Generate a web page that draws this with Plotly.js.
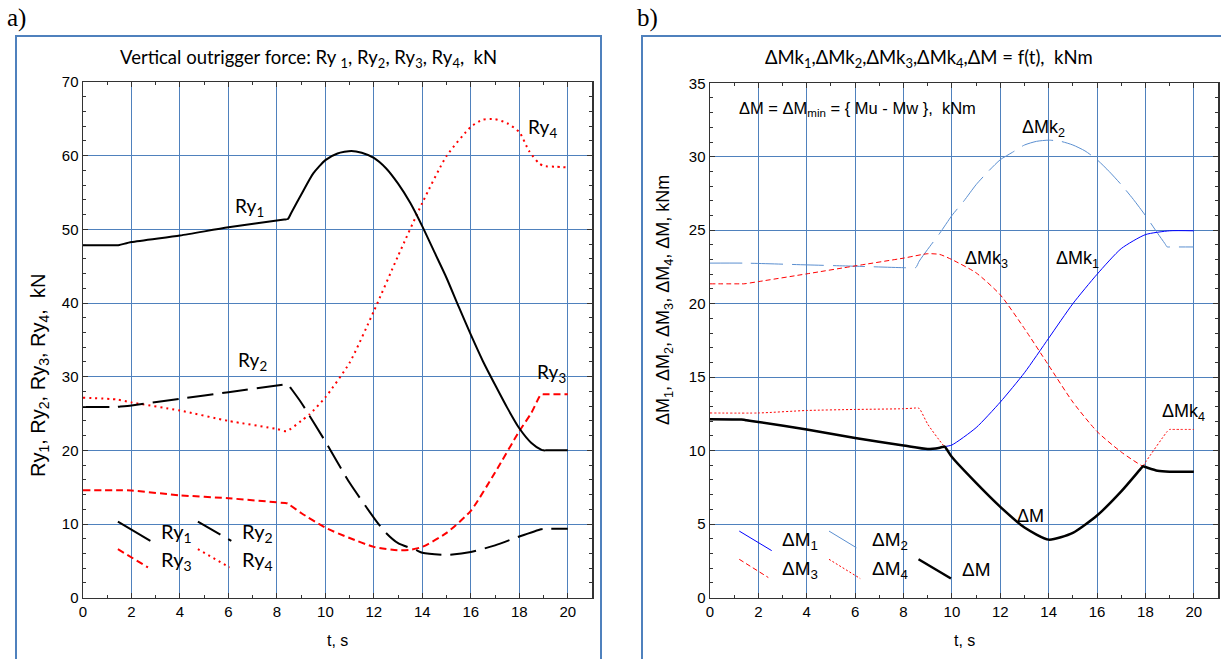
<!DOCTYPE html>
<html>
<head>
<meta charset="utf-8">
<script src="https://cdn.plot.ly/plotly-3.0.1.min.js"></script>
<style>html,body{margin:0;padding:0;background:#fff;}#chart{width:1221px;height:659px;}</style>
</head>
<body>
<div id="chart"></div>
<script>
// ---------- Panel a) : vertical outrigger force, kN ----------
const tRy1 = [0, 1.3, 1.4, 1.5, 2, 4, 6, 8.3, 8.45, 8.6, 9, 9.5, 10, 10.5, 11.07, 11.5, 12, 12.5, 13, 13.5, 14, 14.5, 15, 15.5, 16, 16.5, 17, 17.5, 18, 18.5, 18.9, 19.0, 19.1, 20];
const ry1  = [47.85, 47.85, 47.85, 47.88, 48.27, 49.16, 50.28, 51.33, 51.4, 52.3, 54.7, 57.6, 59.4, 60.3, 60.65, 60.4, 59.7, 58.3, 56.2, 53.6, 50.4, 46.9, 43.4, 39.5, 35.7, 32.1, 28.9, 25.8, 23.0, 21.0, 20.1, 20.0, 20.0, 20.0];

const tRy2 = [0, 1.3, 1.4, 1.5, 2, 4, 6, 8.35, 8.45, 8.55, 9, 10, 11, 12.1, 12.5, 13, 13.75, 14, 15, 16, 17, 18, 18.9, 19, 19.1, 20];
const ry2  = [25.9, 25.9, 25.9, 25.93, 26.1, 27.0, 27.9, 28.95, 29.0, 28.55, 26.5, 21.2, 15.6, 10.4, 8.8, 7.4, 6.45, 6.1, 5.8, 6.2, 7.1, 8.3, 9.3, 9.35, 9.35, 9.35];

const tRy3 = [0, 1.3, 1.4, 1.5, 2, 4, 6, 8.35, 8.45, 8.55, 9, 10, 11, 12, 13, 13.5, 14, 15, 16, 17, 18, 18.5, 18.8, 18.9, 19.0, 20];
const ry3  = [14.6, 14.6, 14.6, 14.6, 14.55, 13.9, 13.5, 12.84, 12.8, 12.55, 11.5, 9.5, 8.1, 6.9, 6.45, 6.5, 6.9, 8.8, 11.8, 17.0, 22.6, 25.1, 27.1, 27.6, 27.6, 27.6];

const tRy4 = [0, 1.4, 2, 4, 6, 8, 8.4, 9, 9.35, 10, 11, 12, 13, 14, 15, 16, 16.5, 17, 17.5, 18, 18.4, 18.8, 19, 19.5, 20];
const ry4  = [27.15, 26.9, 26.5, 25.4, 24.0, 22.9, 22.6, 24.0, 24.9, 27.2, 31.9, 38.9, 46.4, 53.6, 59.95, 63.9, 64.9, 64.95, 64.4, 63.2, 60.65, 59.0, 58.6, 58.5, 58.4];

// ---------- Panel b) : moment differences, kNm ----------
const tDM = [0, 1.3, 1.4, 1.5, 2, 4, 6, 8, 9, 9.5, 9.6, 9.7, 9.8, 10, 11, 12, 13, 14, 15, 16, 17, 17.8, 17.9, 18.0, 18.5, 19, 20];
const dM  = [12.14, 12.12, 12.1, 12.07, 11.95, 11.44, 10.85, 10.34, 10.1, 10.2, 10.24, 10.27, 10.05, 9.56, 7.8, 6.17, 4.76, 3.94, 4.4, 5.58, 7.22, 8.75, 8.93, 8.88, 8.63, 8.56, 8.56];

const tDM1 = [0, 1.4, 2, 4, 6, 8, 9, 9.5, 9.7, 10, 11, 12, 13, 14, 15, 16, 17, 18, 19, 20];
const dM1  = [12.14, 12.1, 11.95, 11.44, 10.85, 10.34, 10.1, 10.2, 10.27, 10.38, 11.56, 13.3, 15.3, 17.65, 20.0, 22.0, 23.75, 24.7, 24.96, 24.96];

const tDM2 = [0, 1.4, 4, 6, 8, 8.5, 8.65, 9, 9.5, 10, 10.5, 11, 11.5, 12, 12.5, 13, 13.5, 14, 14.5, 15, 15.5, 16, 16.5, 17, 17.5, 18, 18.5, 18.8, 18.9, 19.0, 20];
const dM2  = [22.76, 22.76, 22.64, 22.55, 22.45, 22.45, 22.9, 23.7, 24.8, 26.0, 27.0, 28.1, 29.0, 29.8, 30.3, 30.8, 31.05, 31.13, 31.05, 30.8, 30.4, 29.8, 29.0, 28.1, 27.1, 26.0, 24.8, 24.1, 23.86, 23.86, 23.86];

const tDM3 = [0, 1.3, 1.4, 1.5, 2, 4, 6, 8, 9, 9.5, 10, 11, 12, 13, 14, 15, 16, 17, 17.9, 18.5, 19, 20];
const dM3  = [21.35, 21.35, 21.35, 21.37, 21.5, 22.03, 22.57, 23.1, 23.4, 23.35, 23.0, 22.1, 20.6, 18.3, 15.8, 13.3, 11.3, 9.9, 8.93, 8.63, 8.56, 8.56];

const tDM4 = [0, 2, 4, 6, 8, 8.5, 8.6, 8.7, 9, 9.6, 9.7, 9.8, 10, 11, 12, 13, 14, 15, 16, 17, 17.8, 17.9, 18.0, 18.9, 19, 19.1, 20];
const dM4  = [12.56, 12.56, 12.73, 12.8, 12.85, 12.9, 12.92, 12.75, 11.8, 10.45, 10.27, 10.05, 9.56, 7.8, 6.17, 4.76, 3.94, 4.4, 5.58, 7.22, 8.75, 8.93, 9.2, 11.3, 11.44, 11.44, 11.44];

// ---------- styling ----------
const GRID = '#4f81bd';
const AX = '#333333';
const SANS = 'Liberation Sans, Arial, sans-serif';
const CAL = 'Lato, Carlito, sans-serif';

function line(x, y, xa, ya, color, width, dash, smooth) {
  const ln = {color: color, width: width, dash: dash};
  if (smooth) { ln.shape = 'spline'; ln.smoothing = smooth; }
  return {x: x, y: y, xaxis: xa, yaxis: ya, type: 'scatter', mode: 'lines',
          line: ln, hoverinfo: 'skip', showlegend: false};
}

const traces = [
  line(tRy4, ry4, 'x', 'y', '#ff0000', 2, '2px,4px', 0.6),
  line(tRy3, ry3, 'x', 'y', '#ff0000', 2, '7px,4px', 0.6),
  line(tRy2, ry2, 'x', 'y', '#000000', 2, '26px,9px', 0.6),
  line(tRy1, ry1, 'x', 'y', '#000000', 2, 'solid', 0.6),
  line(tDM2, dM2, 'x2', 'y2', '#5b8fd0', 1, '32px,9px', 0.6),
  line(tDM3, dM3, 'x2', 'y2', '#ff0000', 1, '5px,3px', 0.6),
  line(tDM4, dM4, 'x2', 'y2', '#ff0000', 1, '2px,2px', 0.6),
  line(tDM1, dM1, 'x2', 'y2', '#0000ff', 1, 'solid', 0.6),
  line(tDM, dM, 'x2', 'y2', '#000000', 2.5, 'solid', 0.6)
];

function xax(domain, anchor) {
  return {domain: domain, anchor: anchor, range: [0, 21], tick0: 0, dtick: 2,
    ticks: 'inside', ticklen: 5, tickcolor: AX, showline: true, linecolor: AX, linewidth: 1.5,
    mirror: 'ticks', showgrid: true, gridcolor: GRID, gridwidth: 1, zeroline: false,
    tickfont: {family: SANS, size: 15, color: '#000'},
    minor: {dtick: 1, ticks: 'inside', ticklen: 3, tickcolor: AX, showgrid: false}};
}
function yax(domain, anchor, max, dt, mdt) {
  return {domain: domain, anchor: anchor, range: [0, max], tick0: 0, dtick: dt,
    ticks: 'inside', ticklen: 5, tickcolor: AX, showline: true, linecolor: AX, linewidth: 1.5,
    mirror: 'ticks', showgrid: true, gridcolor: GRID, gridwidth: 1, zeroline: false,
    tickfont: {family: SANS, size: 15, color: '#000'},
    minor: {dtick: mdt, ticks: 'inside', ticklen: 3, tickcolor: AX, showgrid: false}};
}

function pa(text, x, y, size, family, extra) {
  return Object.assign({text: text, xref: 'paper', yref: 'paper', x: x, y: y, showarrow: false,
    xanchor: 'center', yanchor: 'middle', font: {family: family, size: size, color: '#000'}}, extra || {});
}
function da(text, xr, yr, x, y, size, family, xanchor) {
  return {text: text, xref: xr, yref: yr, x: x, y: y, showarrow: false,
    xanchor: xanchor || 'center', yanchor: 'middle', font: {family: family, size: size, color: '#000'}};
}
function seg(xr, yr, x0, y0, x1, y1, color, width, dash) {
  return {type: 'line', xref: xr, yref: yr, x0: x0, y0: y0, x1: x1, y1: y1,
          line: {color: color, width: width, dash: dash}};
}

const NB = '\u00a0';
const annotations = [
  pa('a)', 5/1221, 1 - 18/659, 25, 'Liberation Serif, Times New Roman, serif', {xanchor: 'left'}),
  pa('b)', 635/1221, 1 - 18/659, 25, 'Liberation Serif, Times New Roman, serif', {xanchor: 'left'}),
  pa('Vertical outrigger force: Ry <sub>1</sub>, Ry<sub>2</sub>, Ry<sub>3</sub>, Ry<sub>4</sub>,' + NB + ' kN', 308/1221, 1 - 58/659, 18.5, CAL),
  pa('ΔMk<sub>1</sub>,ΔMk<sub>2</sub>,ΔMk<sub>3</sub>,ΔMk<sub>4</sub>,ΔM = f(t),' + NB + ' kNm', 929/1221, 1 - 58/659, 18.5, CAL),
  pa('Ry<sub>1</sub>, Ry<sub>2</sub>, Ry<sub>3</sub>, Ry<sub>4</sub>,' + NB + ' kN', 39/1221, 1 - 376/659, 20, SANS, {textangle: -90}),
  pa('ΔM<sub>1</sub>, ΔM<sub>2</sub>, ΔM<sub>3</sub>, ΔM<sub>4</sub>, ΔM, kNm', 665/1221, 1 - 300/659, 18, SANS, {textangle: -90}),
  pa('t, s', 337.5/1221, 1 - 640/659, 16, SANS),
  pa('t, s', 964/1221, 1 - 640/659, 16, SANS),
  // panel a labels
  da('Ry<sub>1</sub>', 'x', 'y', 6.87, 53.1, 19, CAL),
  da('Ry<sub>2</sub>', 'x', 'y', 7.01, 32.15, 19, CAL),
  da('Ry<sub>4</sub>', 'x', 'y', 18.97, 63.7, 19, CAL),
  da('Ry<sub>3</sub>', 'x', 'y', 19.31, 30.5, 19, CAL),
  da('Ry<sub>1</sub>', 'x', 'y', 3.13, 8.79, 20, CAL, 'left'),
  da('Ry<sub>2</sub>', 'x', 'y', 6.46, 8.79, 20, CAL, 'left'),
  da('Ry<sub>3</sub>', 'x', 'y', 3.13, 5.05, 20, CAL, 'left'),
  da('Ry<sub>4</sub>', 'x', 'y', 6.46, 5.05, 20, CAL, 'left'),
  // panel b labels
  da('ΔM = ΔM<sub>min</sub> = { Mu - Mw },' + NB + ' kNm', 'x2', 'y2', 1.1, 33.24, 16.5, SANS, 'left'),
  da('ΔMk<sub>2</sub>', 'x2', 'y2', 13.8, 31.95, 18, SANS),
  da('ΔMk<sub>3</sub>', 'x2', 'y2', 11.45, 23.04, 18, SANS),
  da('ΔMk<sub>1</sub>', 'x2', 'y2', 15.19, 23.04, 18, SANS),
  da('ΔMk<sub>4</sub>', 'x2', 'y2', 19.59, 12.56, 18, SANS),
  da('ΔM', 'x2', 'y2', 13.24, 5.58, 18, SANS),
  da('ΔM<sub>1</sub>', 'x2', 'y2', 2.9, 3.82, 19, SANS, 'left'),
  da('ΔM<sub>2</sub>', 'x2', 'y2', 6.62, 3.82, 19, SANS, 'left'),
  da('ΔM<sub>3</sub>', 'x2', 'y2', 2.9, 1.9, 19, SANS, 'left'),
  da('ΔM<sub>4</sub>', 'x2', 'y2', 6.62, 1.9, 19, SANS, 'left'),
  da('ΔM', 'x2', 'y2', 10.32, 1.9, 19, SANS, 'left')
];

const FRAME = '#4f81bd';
const shapes = [
  {type: 'rect', xref: 'paper', yref: 'paper', x0: 16/1221, x1: 601/1221, y0: -0.2, y1: 1 - 36/659,
   line: {color: FRAME, width: 2}, layer: 'below'},
  {type: 'rect', xref: 'paper', yref: 'paper', x0: 642/1221, x1: 1.05, y0: -0.2, y1: 1 - 36/659,
   line: {color: FRAME, width: 2}, layer: 'below'},
  // legend samples panel a
  seg('x', 'y', 1.44, 10.33, 2.78, 7.71, '#000000', 2, 'solid'),
  seg('x', 'y', 4.74, 10.33, 6.12, 7.71, '#000000', 2, '26px,9px'),
  seg('x', 'y', 1.44, 6.59, 2.68, 4.11, '#ff0000', 2, '7px,4px'),
  seg('x', 'y', 4.74, 6.59, 6.05, 4.11, '#ff0000', 2, '2px,4px'),
  // legend samples panel b
  seg('x2', 'y2', 1.21, 4.52, 2.55, 3.19, '#0000ff', 1, 'solid'),
  seg('x2', 'y2', 4.92, 4.52, 6.25, 3.19, '#5b8fd0', 1, '32px,9px'),
  seg('x2', 'y2', 1.21, 2.60, 2.41, 1.36, '#ff0000', 1, '5px,3px'),
  seg('x2', 'y2', 4.92, 2.60, 6.21, 1.29, '#ff0000', 1, '2px,2px'),
  seg('x2', 'y2', 8.62, 2.60, 9.96, 1.29, '#000000', 2.5, 'solid')
];

const layout = {
  width: 1221, height: 659,
  margin: {l: 0, r: 0, t: 0, b: 0},
  paper_bgcolor: '#ffffff', plot_bgcolor: '#ffffff',
  showlegend: false,
  xaxis: xax([83/1221, 592/1221], 'y'),
  yaxis: yax([1 - 597.7/659, 1 - 82/659], 'x', 70, 10, 2),
  xaxis2: xax([710/1221, 1218/1221], 'y2'),
  yaxis2: yax([1 - 597.5/659, 1 - 83.3/659], 'x2', 35, 5, 1),
  annotations: annotations,
  shapes: shapes
};

Plotly.newPlot('chart', traces, layout, {staticPlot: true, displayModeBar: false});
</script>
</body>
</html>
